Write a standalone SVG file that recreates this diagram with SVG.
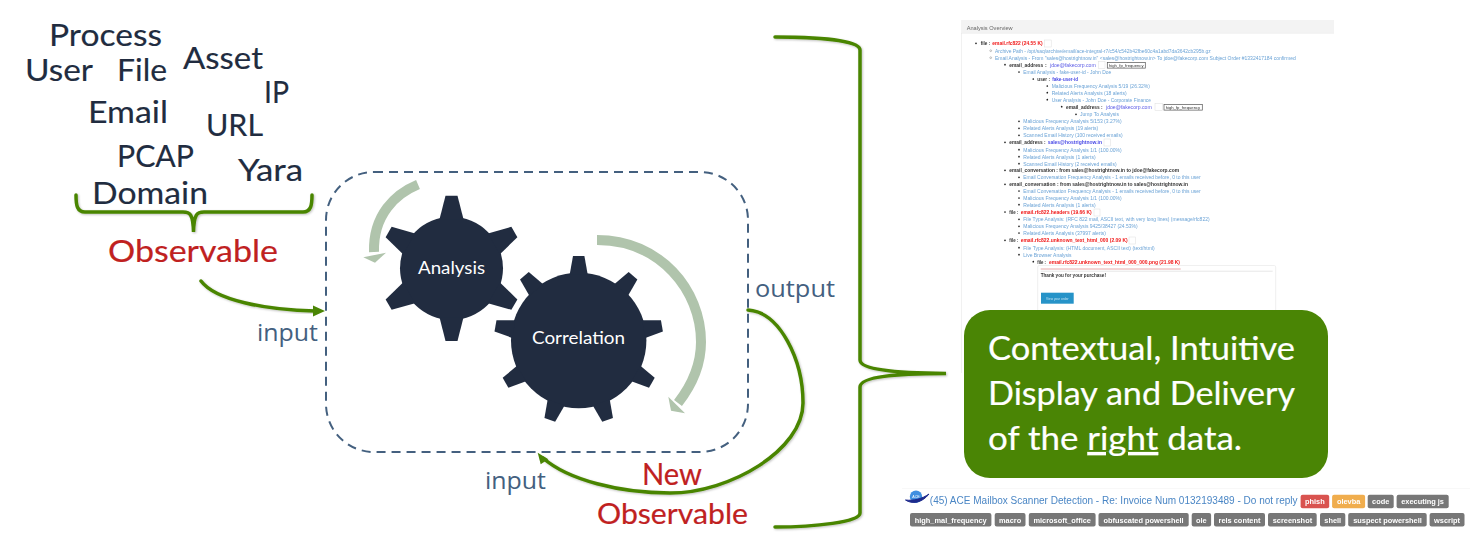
<svg xmlns="http://www.w3.org/2000/svg" width="1470" height="558" viewBox="0 0 1470 558">
<style>
text{font-family:"Lato","Open Sans","Liberation Sans",sans-serif}
.obs{font-size:31px;fill:#212c40;stroke:#212c40;stroke-width:.15}
.red{font-size:31px;fill:#c0211f;stroke:#c0211f;stroke-width:.2}
.io{font-family:"Open Sans","Noto Sans",sans-serif;font-size:24px;fill:#44607f}
.gl{font-size:18px;fill:#fff}
.box{font-size:32px;fill:#fff;stroke:#fff;stroke-width:.2}
.gear{fill:#212c40}
.flow{fill:none;stroke:#4a8505;stroke-width:3.5;stroke-linecap:round;filter:url(#sh)}
.head{fill:#4a8505}
.turn{fill:none;stroke:#b0c4ac;stroke-width:10}
.tip{fill:#b0c4ac}
.s text{font-family:"Liberation Sans",Arial,sans-serif;font-size:5.2px}
.a{fill:#6ba3d6}
.k{fill:#333;font-weight:bold}
.r{fill:#f01818;font-weight:bold}
.u{fill:#5a5ae6}
.ub{fill:#4a4ae6;font-weight:bold}
.btn{fill:#fff;stroke:#ddd;stroke-width:.5}
.fp{fill:#fff;stroke:#555;stroke-width:.7}
.s text.fpt{font-size:3.4px;fill:#333}
.t{fill:#777}
.s text.tt{font-size:7.4px;font-weight:bold;fill:#fff;text-anchor:middle}
</style>
<defs>
<filter id="sh" x="-10%" y="-10%" width="120%" height="120%"><feDropShadow dx="1" dy="1" stdDeviation="1" flood-color="#000" flood-opacity=".25"/></filter>
<filter id="bl" x="0" y="0" width="100%" height="100%"><feGaussianBlur stdDeviation=".45"/></filter>
<path id="t1" d="M-12,-49 L-6,-72.6 L6,-72.6 L12,-49Z"/>
<path id="t2" d="M-9,-66 L-5.7,-84.5 L5.7,-84.5 L9,-66Z"/>
</defs>
<rect width="1470" height="558" fill="#fff"/>

<g id="observable-types">
<text class="obs" x="49" y="46" textLength="113" lengthAdjust="spacingAndGlyphs">Process</text>
<text class="obs" x="25" y="81" textLength="68" lengthAdjust="spacingAndGlyphs">User</text>
<text class="obs" x="117" y="81" textLength="50" lengthAdjust="spacingAndGlyphs">File</text>
<text class="obs" x="183" y="69" textLength="80" lengthAdjust="spacingAndGlyphs">Asset</text>
<text class="obs" x="264" y="103" textLength="25" lengthAdjust="spacingAndGlyphs">IP</text>
<text class="obs" x="88" y="123" textLength="80" lengthAdjust="spacingAndGlyphs">Email</text>
<text class="obs" x="206" y="136" textLength="57" lengthAdjust="spacingAndGlyphs">URL</text>
<text class="obs" x="117" y="167" textLength="77" lengthAdjust="spacingAndGlyphs">PCAP</text>
<text class="obs" x="92" y="204" textLength="116" lengthAdjust="spacingAndGlyphs">Domain</text>
<text class="obs" x="238" y="181" textLength="65" lengthAdjust="spacingAndGlyphs">Yara</text>
</g>
<g id="observable-label"><text class="red" x="108" y="262" textLength="170" lengthAdjust="spacingAndGlyphs">Observable</text></g>

<g id="engine-boundary"><rect x="326" y="172" width="422" height="280" rx="48" fill="none" stroke="#44607f" stroke-width="2" stroke-dasharray="9 6"/></g>

<g id="analysis-gear">
<g class="gear" transform="translate(451.5,268.3)"><circle r="51.5"/>
<use href="#t1"/><use href="#t1" transform="rotate(60)"/><use href="#t1" transform="rotate(120)"/><use href="#t1" transform="rotate(180)"/><use href="#t1" transform="rotate(240)"/><use href="#t1" transform="rotate(300)"/></g>
<text class="gl" x="418" y="274" textLength="67" lengthAdjust="spacingAndGlyphs">Analysis</text>
</g>
<g id="correlation-gear">
<g class="gear" transform="translate(578.7,340.5)"><circle r="67.7"/>
<use href="#t2"/><use href="#t2" transform="rotate(40)"/><use href="#t2" transform="rotate(80)"/><use href="#t2" transform="rotate(120)"/><use href="#t2" transform="rotate(160)"/><use href="#t2" transform="rotate(200)"/><use href="#t2" transform="rotate(240)"/><use href="#t2" transform="rotate(280)"/><use href="#t2" transform="rotate(320)"/></g>
<text class="gl" x="532" y="344" textLength="93" lengthAdjust="spacingAndGlyphs">Correlation</text>
</g>

<g id="rotation-arrows">
<path class="turn" d="M418,184.5 C395,194 373,215 374,252"/>
<polygon class="tip" points="363.3,257.3 386,252.7 375,262.7"/>
<path class="turn" d="M597,240 C660,240 701,290 701,342 C701,365 692,385 678,403"/>
<polygon class="tip" points="668.3,396.7 685,413.3 671,410.7"/>
</g>

<g id="screenshot-analysis" class="s" filter="url(#bl)">
<path d="M961.5,33V373" stroke="#eee" stroke-width=".8"/>
<rect x="961" y="20" width="373" height="13" fill="#f3f3f3"/>
<path d="M961,33.3H1334" stroke="#e8e8e8" stroke-width=".6"/>
<text x="966.7" y="29.5" fill="#666" textLength="46" lengthAdjust="spacingAndGlyphs">Analysis Overview</text>
<path stroke="#222" stroke-width="1.7" stroke-linecap="round" d="M976,43.3h0M1005,64.7h0M1019,72h0M1033.3,79h0M1047.3,86h0M1047.3,92.7h0M1047.3,99.7h0M1061.7,106.7h0M1076,114.3h0M1019,121.3h0M1019,128.3h0M1019,135.3h0M1005,142.3h0M1019,149.7h0M1019,156.7h0M1019,163.7h0M1005,170.3h0M1019,177.3h0M1005,184.3h0M1019,191h0M1019,198h0M1019,204.7h0M1005,212h0M1019,219.3h0M1019,226.3h0M1019,233h0M1005,240.3h0M1019,247.7h0M1019,254.7h0M1033.3,261.7h0"/>
<circle cx="990.7" cy="50.7" r=".9" fill="none" stroke="#888" stroke-width=".5"/><circle cx="990.7" cy="57.7" r=".9" fill="none" stroke="#888" stroke-width=".5"/>
<text class="k" x="980.7" y="45.1" textLength="9.5" lengthAdjust="spacingAndGlyphs">file :</text>
<text class="r" x="992.3" y="45.1" textLength="50.3" lengthAdjust="spacingAndGlyphs">email.rfc822 (24.55 K)</text>
<rect class="btn" x="1044.7" y="40" width="6.5" height="7"/>
<text class="a" x="995" y="52.5" textLength="215.7" lengthAdjust="spacingAndGlyphs">Archive Path - /opt/saq/archive/email/ace-integral-r7/c54/c542b42fbe60c4a1abd7da3642cb295b.gz</text>
<text class="a" x="995" y="59.5" textLength="300.7" lengthAdjust="spacingAndGlyphs">Email Analysis - From "sales@hostrightnow.in" &lt;sales@hostrightnow.in&gt; To jdoe@fakecorp.com Subject Order #1332417184 confirmed</text>
<text class="k" x="1009.3" y="66.5" textLength="34" lengthAdjust="spacingAndGlyphs">email_address</text>
<text class="k" x="1045" y="66.5">:</text>
<text class="u" x="1050" y="66.5" textLength="45.7" lengthAdjust="spacingAndGlyphs">jdoe@fakecorp.com</text>
<rect class="btn" x="1098.7" y="61.5" width="6.3" height="7"/>
<rect class="fp" x="1107.3" y="62.5" width="38" height="5.6"/>
<text class="fpt" x="1109" y="66.5" textLength="34.5" lengthAdjust="spacingAndGlyphs">high_fp_frequency</text>
<text class="a" x="1023.3" y="73.8" textLength="88" lengthAdjust="spacingAndGlyphs">Email Analysis - fake-user-id - John Doe</text>
<text class="k" x="1037.3" y="80.8" textLength="12.7" lengthAdjust="spacingAndGlyphs">user :</text>
<text class="ub" x="1052.3" y="80.8" textLength="25.7" lengthAdjust="spacingAndGlyphs">fake-user-id</text>
<text class="a" x="1051.7" y="87.8" textLength="98.3" lengthAdjust="spacingAndGlyphs">Malicious Frequency Analysis 5/19 (26.32%)</text>
<text class="a" x="1051.7" y="94.5" textLength="75" lengthAdjust="spacingAndGlyphs">Related Alerts Analysis (18 alerts)</text>
<text class="a" x="1051.7" y="101.5" textLength="99.3" lengthAdjust="spacingAndGlyphs">User Analysis - John Doe - Corporate Finance</text>
<text class="k" x="1066" y="108.5" textLength="36.7" lengthAdjust="spacingAndGlyphs">email_address :</text>
<text class="u" x="1106" y="108.5" textLength="45.7" lengthAdjust="spacingAndGlyphs">jdoe@fakecorp.com</text>
<rect class="btn" x="1155" y="103.5" width="7.3" height="7"/>
<rect class="fp" x="1164" y="104.5" width="38.3" height="5.6"/>
<text class="fpt" x="1165.7" y="108.5" textLength="34.5" lengthAdjust="spacingAndGlyphs">high_fp_frequency</text>
<text class="a" x="1080" y="116.1" textLength="39" lengthAdjust="spacingAndGlyphs">Jump To Analysis</text>
<text class="a" x="1023.3" y="123.1" textLength="98.3" lengthAdjust="spacingAndGlyphs">Malicious Frequency Analysis 5/153 (3.27%)</text>
<text class="a" x="1023.3" y="130.1" textLength="75" lengthAdjust="spacingAndGlyphs">Related Alerts Analysis (19 alerts)</text>
<text class="a" x="1023.3" y="137.1" textLength="99.3" lengthAdjust="spacingAndGlyphs">Scanned Email History (100 received emails)</text>
<text class="k" x="1009.3" y="144.1" textLength="36.3" lengthAdjust="spacingAndGlyphs">email_address :</text>
<text class="ub" x="1047.7" y="144.1" textLength="54.3" lengthAdjust="spacingAndGlyphs">sales@hostrightnow.in</text>
<rect class="btn" x="1104" y="139" width="6.7" height="7"/>
<text class="a" x="1023.3" y="151.5" textLength="98.3" lengthAdjust="spacingAndGlyphs">Malicious Frequency Analysis 1/1 (100.00%)</text>
<text class="a" x="1023.3" y="158.5" textLength="72.3" lengthAdjust="spacingAndGlyphs">Related Alerts Analysis (1 alerts)</text>
<text class="a" x="1023.3" y="165.5" textLength="93.3" lengthAdjust="spacingAndGlyphs">Scanned Email History (2 received emails)</text>
<text class="k" x="1009.3" y="172.1" textLength="169.7" lengthAdjust="spacingAndGlyphs">email_conversation : from sales@hostrightnow.in to jdoe@fakecorp.com</text>
<text class="a" x="1023.3" y="179.1" textLength="177.3" lengthAdjust="spacingAndGlyphs">Email Conversation Frequency Analysis - 1 emails received before, 0 to this user</text>
<text class="k" x="1009.3" y="186.1" textLength="178.7" lengthAdjust="spacingAndGlyphs">email_conversation : from sales@hostrightnow.in to sales@hostrightnow.in</text>
<text class="a" x="1023.3" y="192.8" textLength="177.3" lengthAdjust="spacingAndGlyphs">Email Conversation Frequency Analysis - 1 emails received before, 0 to this user</text>
<text class="a" x="1023.3" y="199.8" textLength="98.3" lengthAdjust="spacingAndGlyphs">Malicious Frequency Analysis 1/1 (100.00%)</text>
<text class="a" x="1023.3" y="206.5" textLength="72.3" lengthAdjust="spacingAndGlyphs">Related Alerts Analysis (1 alerts)</text>
<text class="k" x="1009.3" y="213.8" textLength="9" lengthAdjust="spacingAndGlyphs">file :</text>
<text class="r" x="1020.7" y="213.8" textLength="71" lengthAdjust="spacingAndGlyphs">email.rfc822.headers (19.66 K)</text>
<rect class="btn" x="1094" y="209" width="6" height="7"/>
<text class="a" x="1023.3" y="221.1" textLength="186.3" lengthAdjust="spacingAndGlyphs">File Type Analysis: (RFC 822 mail, ASCII text, with very long lines) (message/rfc822)</text>
<text class="a" x="1023.3" y="228.1" textLength="114.3" lengthAdjust="spacingAndGlyphs">Malicious Frequency Analysis 9425/38427 (24.53%)</text>
<text class="a" x="1023.3" y="234.8" textLength="82.7" lengthAdjust="spacingAndGlyphs">Related Alerts Analysis (37997 alerts)</text>
<text class="k" x="1009.3" y="242.1" textLength="9" lengthAdjust="spacingAndGlyphs">file :</text>
<text class="r" x="1020.7" y="242.1" textLength="107" lengthAdjust="spacingAndGlyphs">email.rfc822.unknown_text_html_000 (2.09 K)</text>
<rect class="btn" x="1129" y="237" width="6.3" height="7"/>
<text class="a" x="1023.3" y="249.5" textLength="131.3" lengthAdjust="spacingAndGlyphs">File Type Analysis: (HTML document, ASCII text) (text/html)</text>
<text class="a" x="1023.3" y="256.5" textLength="48.3" lengthAdjust="spacingAndGlyphs">Live Browser Analysis</text>
<text class="k" x="1037.3" y="263.5" textLength="8.7" lengthAdjust="spacingAndGlyphs">file :</text>
<text class="r" x="1049" y="263.5" textLength="131" lengthAdjust="spacingAndGlyphs">email.rfc822.unknown_text_html_000_000.png (21.98 K)</text>
<rect x="1037.7" y="265.5" width="238" height="60" rx="1.5" fill="#fff" stroke="#eee" stroke-width=".9"/>
<path d="M1040.7,269h140" stroke="#e3a0a0" stroke-width=".9"/>
<path d="M1040.7,271.2h232" stroke="#ddd" stroke-width=".7"/>
<text class="k" x="1040.7" y="277.1" textLength="65.3" lengthAdjust="spacingAndGlyphs">Thank you for your purchase!</text>
<rect x="1041" y="292.7" width="32.7" height="11" fill="#2593c8"/>
<text x="1046" y="300" fill="#bfe0f0" textLength="22.7" lengthAdjust="spacingAndGlyphs" style="font-size:4px">View your order</text>
</g>

<g id="contextual-display">
<rect x="964" y="310" width="364" height="168" rx="26" fill="#4a8505"/>
<text class="box" x="988" y="360" textLength="307" lengthAdjust="spacingAndGlyphs">Contextual, Intuitive</text>
<text class="box" x="988" y="405" textLength="307" lengthAdjust="spacingAndGlyphs">Display and Delivery</text>
<text class="box" x="988" y="450" textLength="254" lengthAdjust="spacingAndGlyphs">of the <tspan text-decoration="underline">right</tspan> data.</text>
</g>

<g id="screenshot-alert" class="s" filter="url(#bl)">
<path d="M902,488H1470" stroke="#eee" stroke-width=".8"/>
<circle cx="916" cy="496.7" r="6.2" fill="#3f8fe0"/>
<path d="M905.5,500 C912,504.5 922,503 929,494 C922,499 913,501 905.5,500Z" fill="#1c2a8c" stroke="#1c2a8c" stroke-width="1"/>
<text x="916" y="498" fill="#fff" text-anchor="middle" style="font-size:3.6px">ACE</text>
<text x="929.8" y="504.2" fill="#4a86c5" textLength="367.8" lengthAdjust="spacingAndGlyphs" style="font-size:10px">(45) ACE Mailbox Scanner Detection - Re: Invoice Num 0132193489 - Do not reply</text>
<rect x="1300.6" y="494.7" width="28.6" height="13.5" rx="2" fill="#d9534f"/><text class="tt" x="1314.9" y="504.2">phish</text>
<rect x="1332.1" y="494.7" width="33" height="13.5" rx="2" fill="#f0ad4e"/><text class="tt" x="1348.6" y="504.2">olevba</text>
<rect class="t" x="1367.7" y="494.7" width="26" height="13.5" rx="2"/><text class="tt" x="1380.7" y="504.2">code</text>
<rect class="t" x="1396.6" y="494.7" width="52.1" height="13.5" rx="2"/><text class="tt" x="1422.6" y="504.2">executing js</text>
<rect class="t" x="910" y="513" width="81.4" height="13.6" rx="2"/><text class="tt" x="950.7" y="522.6">high_mal_frequency</text>
<rect class="t" x="994.7" y="513" width="30.8" height="13.6" rx="2"/><text class="tt" x="1010.1" y="522.6">macro</text>
<rect class="t" x="1028.8" y="513" width="66.8" height="13.6" rx="2"/><text class="tt" x="1062.2" y="522.6">microsoft_office</text>
<rect class="t" x="1098.5" y="513" width="90.2" height="13.6" rx="2"/><text class="tt" x="1143.6" y="522.6">obfuscated powershell</text>
<rect class="t" x="1191.7" y="513" width="19.4" height="13.6" rx="2"/><text class="tt" x="1201.4" y="522.6">ole</text>
<rect class="t" x="1214" y="513" width="51" height="13.6" rx="2"/><text class="tt" x="1239.5" y="522.6">rels content</text>
<rect class="t" x="1268" y="513" width="48.7" height="13.6" rx="2"/><text class="tt" x="1292.4" y="522.6">screenshot</text>
<rect class="t" x="1320" y="513" width="25.3" height="13.6" rx="2"/><text class="tt" x="1332.7" y="522.6">shell</text>
<rect class="t" x="1348.2" y="513" width="78.5" height="13.6" rx="2"/><text class="tt" x="1387.5" y="522.6">suspect powershell</text>
<rect class="t" x="1429.6" y="513" width="34.9" height="13.6" rx="2"/><text class="tt" x="1447" y="522.6">wscript</text>
</g>

<g id="connectors">
<path class="flow" d="M76,195 C76,205 77,212 85,212 L183,212 C190,212 193,214 193.5,232 C194,214 197,212 204,212 L303,212 C311,212 312,205 312,195"/>
<path class="flow" d="M201,281 C215,300 265,310 315,311"/>
<polygon class="head" points="325,311 313,305.5 313,316.5"/>
<path class="flow" d="M748,310 C780,312 803,360 803,403 C803,450 730,493 670,493 C620,493 568,480 543,458"/>
<polygon class="head" points="537.7,452.7 548.3,459.3 540.7,464.3"/>
<path class="flow" d="M775,37 C815,37 860,40 860,50 L860,360 C860,370 900,373 946,373.5 C900,373.5 860,376 860,387 L860,513 C860,522 815,527 775,527"/>
</g>

<g id="connector-labels">
<text class="io" x="257" y="341" textLength="61" lengthAdjust="spacingAndGlyphs">input</text>
<text class="io" x="755" y="297" textLength="80" lengthAdjust="spacingAndGlyphs">output</text>
<text class="io" x="485" y="489" textLength="61" lengthAdjust="spacingAndGlyphs">input</text>
<text class="red" x="642" y="485" textLength="60" lengthAdjust="spacingAndGlyphs">New</text>
<text class="red" x="597" y="524" textLength="151" lengthAdjust="spacingAndGlyphs" style="font-size:28px">Observable</text>
</g>
</svg>
